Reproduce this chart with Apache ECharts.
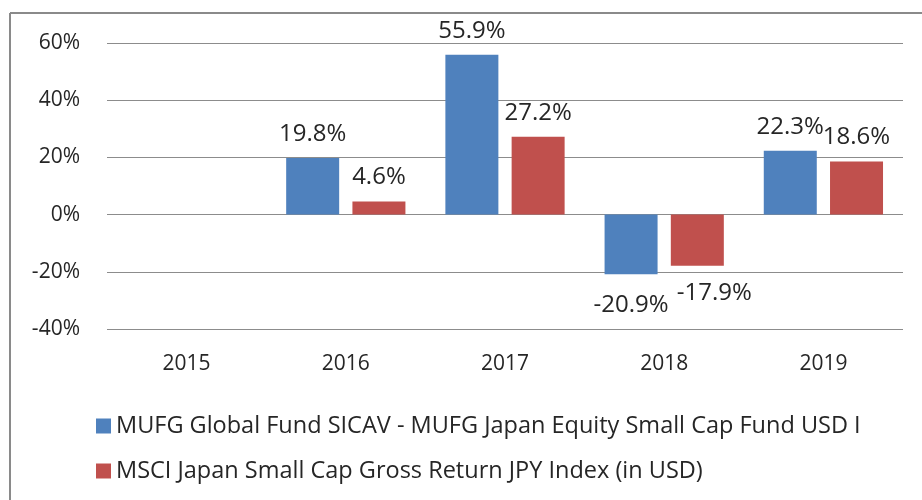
<!DOCTYPE html>
<html>
<head>
<meta charset="utf-8">
<script src="https://cdn.jsdelivr.net/npm/echarts@6/dist/echarts.min.js"></script>
<style>
html, body { margin: 0; padding: 0; background: #fff; }
#main { width: 922px; height: 500px; }
</style>
</head>
<body>
<div id="main"></div>
<script>
var years = ['2015', '2016', '2017', '2018', '2019']
var fundName = 'MUFG Global Fund SICAV - MUFG Japan Equity Small Cap Fund USD I'
var indexName = 'MSCI Japan Small Cap Gross Return JPY Index (in USD)'
var fundValues = [null, 19.8, 55.9, -20.9, 22.3]
var indexValues = [null, 4.6, 27.2, -17.9, 18.6]

var myChart = echarts.init(document.getElementById('main'))
var font = '"Open Sans", sans-serif'
var textColor = '#262626'

// negative bars get their label a bit further below, like the original;
// the second series' label is nudged right so the two don't collide
function toItems(values, shift) {
    return values.map(function (v) {
        if (v !== null && v < 0) {
            return { value: v, label: { distance: 19, offset: [shift, -4 * (shift > 0)] } }
        }
        return v
    })
}

function barLabel() {
    return {
        show: true,
        position: 'outside',
        distance: 12,
        fontSize: 24,
        fontFamily: font,
        color: textColor,
        formatter: function (p) { return p.value.toFixed(1) + '%' }
    }
}

var option = {
    animation: false,
    backgroundColor: '#fff',
    graphic: [
        { type: 'line', shape: { x1: 10, y1: 13, x2: 922, y2: 13 }, style: { stroke: '#8a8a8a', lineWidth: 2 } },
        { type: 'line', shape: { x1: 10, y1: 13, x2: 10, y2: 500 }, style: { stroke: '#8a8a8a', lineWidth: 2 } }
    ],
    grid: { left: 107, right: 19, top: 43, bottom: 171 },
    legend: {
        orient: 'vertical',
        left: 91,
        top: 409,
        itemGap: 21,
        itemWidth: 15,
        itemHeight: 15,
        icon: 'rect',
        textStyle: { fontSize: 23.5, fontFamily: font, color: textColor },
        data: [fundName, indexName]
    },
    xAxis: {
        type: 'category',
        data: years,
        position: 'bottom',
        axisLine: { show: false },
        axisTick: { show: false },
        axisLabel: { fontSize: 21, fontFamily: font, color: textColor, margin: 25 }
    },
    yAxis: {
        type: 'value',
        min: -40,
        max: 60,
        interval: 20,
        axisLine: { show: false },
        axisTick: { show: false },
        axisLabel: { fontSize: 21, fontFamily: font, color: textColor, margin: 27, formatter: '{value}%' },
        splitLine: { lineStyle: { color: '#8c8c8c', width: 1 } }
    },
    series: [
        {
            name: fundName,
            type: 'bar',
            data: toItems(fundValues, 0),
            barWidth: 53,
            barGap: '25%',
            itemStyle: { color: '#4F81BD' },
            label: barLabel()
        },
        {
            name: indexName,
            type: 'bar',
            data: toItems(indexValues, 17),
            barWidth: 53,
            itemStyle: { color: '#C0504D' },
            label: barLabel()
        }
    ]
}
myChart.setOption(option)
</script>
</body>
</html>
